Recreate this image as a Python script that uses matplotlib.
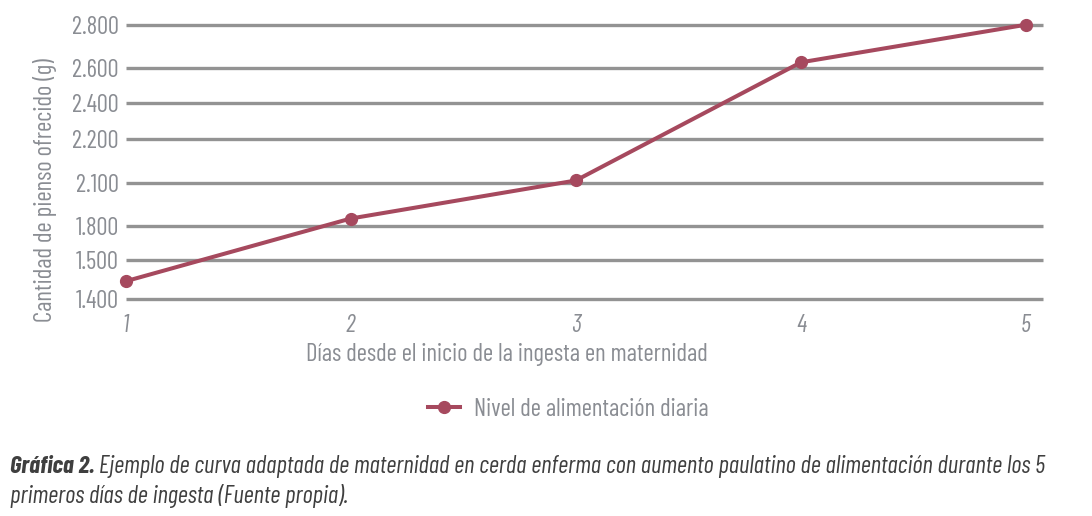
import numpy as np
import matplotlib
matplotlib.use("Agg")
import matplotlib.pyplot as plt
from matplotlib import font_manager as fm
from matplotlib.textpath import TextPath
from matplotlib.font_manager import FontProperties

# ---- data ----
days = [1, 2, 3, 4, 5]
feed_g = [1445, 1850, 2105, 2625, 2800]
series_name = "Nivel de alimentación diaria"
y_tick_values = [1400, 1500, 1800, 2100, 2200, 2400, 2600, 2800]
y_tick_labels = ["1.400", "1.500", "1.800", "2.100", "2.200", "2.400", "2.600", "2.800"]
# relative vertical position of each y tick (axis is not linear in the original)
y_tick_pos = [0.0, 0.1412, 0.2664, 0.4234, 0.5839, 0.7142, 0.8431, 1.0]
x_label = "Días desde el inicio de la ingesta en maternidad"
y_label = "Cantidad de pienso ofrecido (g)"
caption_bold = "Gráfica 2."
caption_rest_1 = " Ejemplo de curva adaptada de maternidad en cerda enferma con aumento paulatino de alimentación durante los 5"
caption_line_2 = "primeros días de ingesta (Fuente propia)."

# ---- font choice: a condensed family whose proportions are closest to the original ----
fl = fm.fontManager.ttflist
names = {f.name for f in fl}
italic_names = {f.name for f in fl if f.style == "italic"}
cands = ["Myriad Pro Condensed", "Fira Sans Extra Condensed", "Fira Sans Condensed", "Roboto Condensed",
         "PT Sans Narrow", "Open Sans Condensed", "Asap Condensed", "Archivo Narrow",
         "Barlow Condensed", "Barlow Semi Condensed", "Encode Sans Condensed",
         "IBM Plex Sans Condensed", "Ubuntu Condensed", "Noto Sans Condensed",
         "Sofia Sans Condensed", "Liberation Sans Narrow"]
target = 17.5 / 400.0
best, best_err = None, 1e9
for c in cands:
    if c not in names or c not in italic_names:
        continue
    try:
        fp = FontProperties(family=c)
        wx = TextPath((0, 0), x_label, size=10, prop=fp).get_extents().width
        hd = TextPath((0, 0), "D", size=10, prop=fp).get_extents().height
        err = abs(hd / wx - target)
        if err < best_err:
            best, best_err = c, err
    except Exception:
        pass
FONT = best or "DejaVu Sans"
plt.rcParams["font.family"] = [FONT, "DejaVu Sans"]

W, H = 1092, 516
fig = plt.figure(figsize=(W / 100, H / 100), dpi=100)
r = fig.canvas.get_renderer()

def width_at(text, size, **kw):
    t = fig.text(0, 0, text, fontsize=size, **kw)
    w = t.get_window_extent(r).width
    t.remove()
    return w

fs_x = 10 * 400 / width_at(x_label, 10)
fs_y = 10 * 264 / width_at(y_label, 10)
fs_leg = 10 * 233 / width_at(series_name, 10)
fs_tick = 10 * 47 / width_at(y_tick_labels[-1], 10)
cap_fs = 10 * 1040 / (width_at(caption_bold, 10, fontweight="bold", fontstyle="italic")
                      + width_at(caption_rest_1, 10, fontstyle="italic"))

left_px, right_px, top_px, bot_px = 125.5, 1043, 24.7, 298.7
ax = fig.add_axes([left_px / W, 1 - bot_px / H, (right_px - left_px) / W, (bot_px - top_px) / H])

def fwd(v):
    return np.interp(v, y_tick_values, y_tick_pos)

def inv(p):
    return np.interp(p, y_tick_pos, y_tick_values)

ax.set_yscale("function", functions=(fwd, inv))
ax.set_ylim(y_tick_values[0], y_tick_values[-1])
ax.set_xlim(1, 5.075)

grid_c = "#939393"
ax.hlines(y_tick_values, 1, 5.075, colors=grid_c, linewidth=2.4, clip_on=False, zorder=1)

line_c = "#A6495E"
ax.plot(days, feed_g, color=line_c, linewidth=2.9, marker="o", markersize=8.5,
        clip_on=False, zorder=3, label=series_name)

for s in ax.spines.values():
    s.set_visible(False)

tick_c = "#8A8D93"
ax.set_yticks(y_tick_values)
ax.set_yticklabels(y_tick_labels)
ax.set_xticks(days)
ax.set_xticklabels([str(d) for d in days])
ax.tick_params(axis="both", length=0, colors=tick_c, labelsize=fs_tick)
ax.tick_params(axis="y", pad=5)
ax.tick_params(axis="x", pad=11)
for lab in ax.get_xticklabels():
    lab.set_fontstyle("italic")
ax.yaxis.set_minor_locator(matplotlib.ticker.NullLocator())

fig.text(507 / W, 1 - 355 / H, x_label, ha="center", va="center", color=tick_c, fontsize=fs_x)
fig.text(45 / W, 1 - 190 / H, y_label, ha="center", va="center", rotation=90, color=tick_c, fontsize=fs_y)

hl_px, pad_px = 32, 14
em = fs_leg * 100 / 72
leg = fig.legend(loc="center", bbox_to_anchor=(568 / W, 1 - 409 / H), frameon=False,
                 fontsize=fs_leg, handlelength=hl_px / em, handletextpad=pad_px / em,
                 borderpad=0, borderaxespad=0)
for t in leg.get_texts():
    t.set_color(tick_c)

cap_c = "#3F3F3F"
t1 = fig.text(10 / W, 1 - 467 / H, caption_bold, ha="left", va="center", color=cap_c,
              fontsize=cap_fs, fontweight="bold", fontstyle="italic")
bb = t1.get_window_extent(r)
fig.text(bb.x1 / W, 1 - 467 / H, caption_rest_1, ha="left", va="center", color=cap_c,
         fontsize=cap_fs, fontstyle="italic")
fig.text(10 / W, 1 - 496 / H, caption_line_2, ha="left", va="center", color=cap_c,
         fontsize=cap_fs, fontstyle="italic")

fig.savefig("out.png", dpi=100)
